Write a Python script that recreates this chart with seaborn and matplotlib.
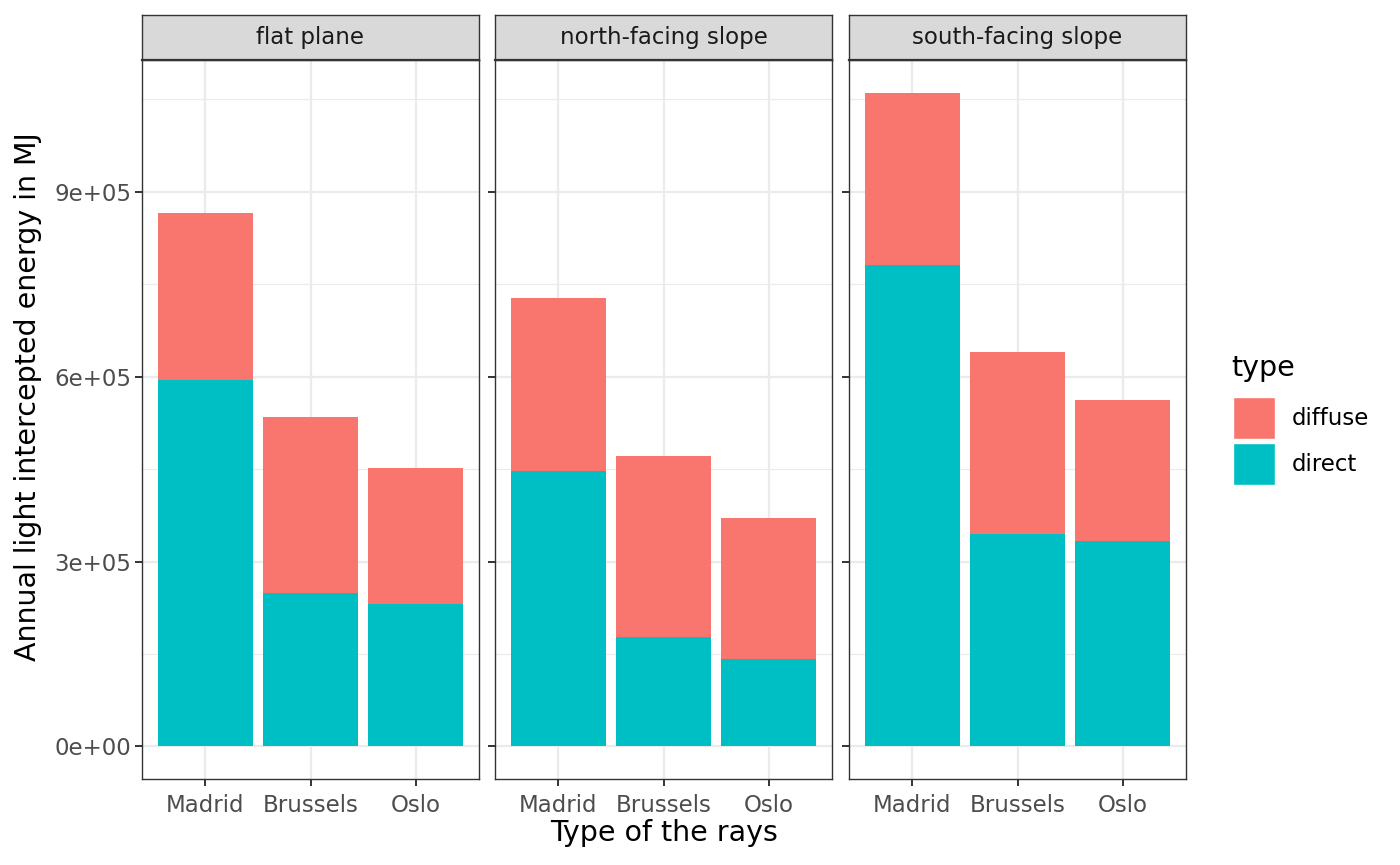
import pandas as pd
import matplotlib
matplotlib.use('Agg')
import matplotlib.pyplot as plt
import seaborn as sns
from matplotlib.ticker import FixedLocator
from matplotlib.patches import Patch

# %%
cities = ['Madrid', 'Brussels', 'Oslo']
surfaces = ['flat plane', 'north-facing slope', 'south-facing slope']
direct_flat = [594000, 249000, 230800]
diffuse_flat = [272400, 285000, 220500]
direct_north = [447000, 177700, 142000]
diffuse_north = [280000, 293100, 228200]
direct_south = [781000, 344300, 333000]
diffuse_south = [280000, 295100, 228600]
y_ticks = [0, 300000, 600000, 900000]
y_tick_labels = ['0e+00', '3e+05', '6e+05', '9e+05']

rows = []
for surf, dr, df in zip(surfaces,
                        [direct_flat, direct_north, direct_south],
                        [diffuse_flat, diffuse_north, diffuse_south]):
    for c, a, b in zip(cities, dr, df):
        rows.append({'surface': surf, 'city': c, 'direct': a, 'diffuse': b, 'total': a + b})
data = pd.DataFrame(rows)

# %%
sns.set_style('white')
plt.rcParams['font.family'] = ['DejaVu Sans']
col_diffuse = '#F8766D'
col_direct = '#00BFC4'
W, H = 1400, 865
fig = plt.figure(figsize=(W / 100, H / 100), dpi=100)

lefts = [142, 495, 849]
pw = 337
top, bottom = 60, 779
ymax = data['total'].max()
ylim = (-0.05 * ymax, 1.05 * ymax)

for i, (surf, l) in enumerate(zip(surfaces, lefts)):
    ax = fig.add_axes([l / W, (H - bottom) / H, pw / W, (bottom - top) / H])
    sub = data[data['surface'] == surf]
    sns.barplot(data=sub, x='city', y='total', order=cities, color=col_diffuse,
                width=0.9, saturation=1, linewidth=0, ax=ax, zorder=3)
    sns.barplot(data=sub, x='city', y='direct', order=cities, color=col_direct,
                width=0.9, saturation=1, linewidth=0, ax=ax, zorder=3)
    ax.set_xlim(-0.6, 2.6)
    ax.set_ylim(*ylim)
    ax.yaxis.set_major_locator(FixedLocator(y_ticks))
    ax.yaxis.set_minor_locator(FixedLocator([150000, 450000, 750000, 1050000]))
    ax.grid(True, which='major', color='#EBEBEB', lw=1.6, zorder=0)
    ax.grid(True, which='minor', axis='y', color='#EBEBEB', lw=0.8, zorder=0)
    ax.set_axisbelow(True)
    for s in ax.spines.values():
        s.set_color('#333333')
        s.set_linewidth(1.0)
    ax.set_xlabel('')
    ax.set_ylabel('')
    ax.tick_params(axis='both', which='major', length=5, width=1.4, color='#333333',
                   labelsize=16.5, labelcolor='#4D4D4D', pad=2.5, direction='out',
                   bottom=True, left=True)
    ax.tick_params(axis='x', which='major', pad=5.5)
    ax.tick_params(axis='y', which='minor', length=0)
    if i == 0:
        ax.set_yticklabels(y_tick_labels)
    else:
        ax.set_yticklabels([])

    sax = fig.add_axes([l / W, (H - top) / H, pw / W, 45 / H])
    sax.set_facecolor('#D9D9D9')
    sax.set_xticks([])
    sax.set_yticks([])
    for s in sax.spines.values():
        s.set_color('#333333')
        s.set_linewidth(1.0)
    sax.spines['bottom'].set_linewidth(1.6)
    sax.text(0.5, 0.5, surf, ha='center', va='center', fontsize=16.5,
             color='#1A1A1A', transform=sax.transAxes)

fig.text(664 / W, 1 - 833 / H, 'Type of the rays', ha='center', va='center',
         fontsize=20.5, color='black')
fig.text(28 / W, 1 - 397 / H, 'Annual light intercepted energy in MJ', ha='center',
         va='center', rotation=90, fontsize=20.5, color='black')

# legend: title as its own text, keys below
fig.text(1231 / W, 1 - 368 / H, 'type', ha='left', va='center', fontsize=20.5, color='black')
handles = [Patch(facecolor=col_diffuse, label='diffuse'),
           Patch(facecolor=col_direct, label='direct')]
leg = fig.legend(handles=handles, loc='upper left',
                 bbox_to_anchor=(1233 / W, 1 - 397 / H), frameon=False,
                 fontsize=16.5, handlelength=1.83, handleheight=2.44,
                 handletextpad=0.75, labelspacing=0.17, borderaxespad=0, borderpad=0)
for t in leg.get_texts():
    t.set_color('black')

fig.savefig('out.png', dpi=100)
